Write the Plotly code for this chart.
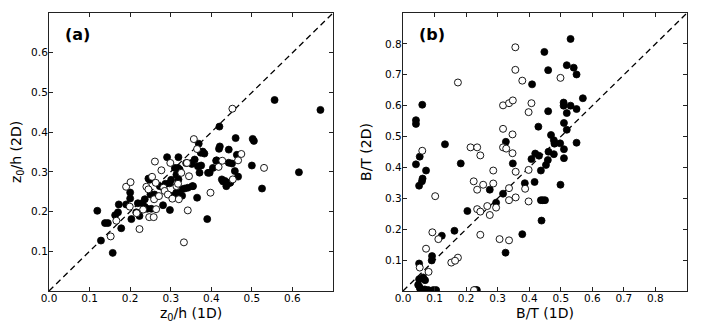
import plotly.graph_objects as go

# panel (a): z0/h
a_fill_x = [0.119, 0.128, 0.157, 0.138, 0.145, 0.178, 0.163, 0.170, 0.172, 0.190, 0.200, 0.200, 0.203,
            0.215, 0.223, 0.219, 0.230, 0.236, 0.245, 0.242, 0.252, 0.250, 0.260, 0.236, 0.281, 0.291,
            0.297, 0.298, 0.310, 0.318, 0.319, 0.319, 0.314, 0.326, 0.334, 0.352, 0.353, 0.359, 0.365,
            0.369, 0.374, 0.383, 0.371, 0.375, 0.390, 0.396, 0.404, 0.413, 0.420, 0.419, 0.421, 0.426,
            0.434, 0.437, 0.443, 0.443, 0.451, 0.447, 0.460, 0.463, 0.458, 0.466, 0.500, 0.502, 0.505,
            0.525, 0.556, 0.616, 0.669, 0.338, 0.328, 0.305, 0.429, 0.445, 0.355, 0.412,
            0.379, 0.367, 0.322, 0.314, 0.301, 0.287, 0.273, 0.248, 0.342, 0.351, 0.392]
a_fill_y = [0.202, 0.127, 0.096, 0.171, 0.171, 0.158, 0.191, 0.198, 0.218, 0.218, 0.248, 0.233, 0.181,
            0.198, 0.189, 0.221, 0.221, 0.231, 0.283, 0.207, 0.207, 0.243, 0.243, 0.212, 0.216, 0.337,
            0.271, 0.204, 0.310, 0.310, 0.337, 0.281, 0.248, 0.256, 0.258, 0.320, 0.264, 0.331, 0.235,
            0.371, 0.348, 0.346, 0.298, 0.316, 0.181, 0.298, 0.310, 0.329, 0.414, 0.358, 0.364, 0.281,
            0.277, 0.264, 0.356, 0.323, 0.321, 0.273, 0.385, 0.343, 0.302, 0.288, 0.316, 0.383, 0.378,
            0.258, 0.481, 0.299, 0.456, 0.322, 0.240, 0.240, 0.276, 0.272, 0.264, 0.328,
            0.351, 0.314, 0.306, 0.293, 0.280, 0.270, 0.264, 0.280, 0.260, 0.322, 0.2975]
a_open_x = [0.152, 0.166, 0.190, 0.201, 0.199, 0.223, 0.240, 0.245, 0.254, 0.261, 0.263, 0.247, 0.258,
            0.264, 0.259, 0.271, 0.277, 0.282, 0.285, 0.293, 0.299, 0.304, 0.314, 0.320, 0.326, 0.3325,
            0.340, 0.342, 0.345, 0.357, 0.365, 0.398, 0.418, 0.427, 0.453, 0.452, 0.466, 0.474, 0.530,
            0.216, 0.232, 0.318]
a_open_y = [0.1375, 0.177, 0.2625, 0.274, 0.2125, 0.156, 0.2625, 0.256, 0.2875, 0.326, 0.2725, 0.186,
            0.186, 0.206, 0.231, 0.239, 0.304, 0.260, 0.252, 0.243, 0.3225, 0.2325, 0.264, 0.231, 0.2975,
            0.1225, 0.3225, 0.203, 0.289, 0.3825, 0.3575, 0.2475, 0.3125, 0.328, 0.281, 0.459, 0.329,
            0.345, 0.310, 0.196, 0.205, 0.270]

# panel (b): B/T
b_fill_x = [0.041, 0.041, 0.041, 0.053, 0.051, 0.061, 0.062, 0.060, 0.073, 0.133, 0.183, 0.123, 0.163,
            0.092, 0.091, 0.051, 0.051, 0.064, 0.070, 0.048, 0.053, 0.055, 0.069, 0.080, 0.096, 0.105,
            0.229, 0.234, 0.204, 0.275, 0.295, 0.317, 0.326, 0.348, 0.325, 0.378, 0.386, 0.409, 0.407,
            0.417, 0.419, 0.429, 0.431, 0.437, 0.437, 0.450, 0.439, 0.448, 0.460, 0.460, 0.453, 0.459,
            0.461, 0.469, 0.478, 0.480, 0.478, 0.498, 0.499, 0.509, 0.509, 0.510, 0.510, 0.510, 0.519,
            0.519, 0.519, 0.531, 0.531, 0.541, 0.550, 0.550, 0.550, 0.570, 0.443]
b_fill_y = [0.553, 0.541, 0.410, 0.435, 0.341, 0.603, 0.364, 0.355, 0.390, 0.475, 0.413, 0.179, 0.195,
            0.113, 0.099, 0.089, 0.038, 0.044, 0.035, 0.020, 0.012, 0.005, 0.005, 0.003, 0.003, 0.003,
            0.003, 0.003, 0.259, 0.328, 0.286, 0.315, 0.483, 0.413, 0.124, 0.184, 0.349, 0.669, 0.427,
            0.353, 0.445, 0.532, 0.438, 0.390, 0.294, 0.294, 0.228, 0.774, 0.715, 0.582, 0.408, 0.424,
            0.451, 0.505, 0.488, 0.477, 0.443, 0.478, 0.344, 0.600, 0.610, 0.544, 0.459, 0.430, 0.731,
            0.576, 0.522, 0.816, 0.600, 0.723, 0.701, 0.589, 0.480, 0.624, 0.294]
b_open_x = [0.061, 0.102, 0.174, 0.093, 0.112, 0.073, 0.081, 0.053, 0.153, 0.174, 0.214, 0.235, 0.245,
            0.224, 0.235, 0.254, 0.286, 0.286, 0.235, 0.245, 0.267, 0.275, 0.295, 0.245, 0.306, 0.336,
            0.317, 0.336, 0.348, 0.317, 0.347, 0.317, 0.327, 0.347, 0.336, 0.336, 0.357, 0.357, 0.356,
            0.356, 0.378, 0.387, 0.398, 0.398, 0.398, 0.407, 0.499, 0.225, 0.165]
b_open_y = [0.454, 0.307, 0.675, 0.190, 0.168, 0.137, 0.062, 0.076, 0.092, 0.108, 0.465, 0.465, 0.439,
            0.355, 0.328, 0.344, 0.348, 0.390, 0.265, 0.257, 0.275, 0.246, 0.270, 0.182, 0.168, 0.164,
            0.601, 0.608, 0.617, 0.525, 0.507, 0.465, 0.461, 0.446, 0.333, 0.294, 0.303, 0.386, 0.789,
            0.716, 0.681, 0.331, 0.392, 0.290, 0.579, 0.608, 0.690, 0.003, 0.098]

a_max = 0.7
b_max = 0.9
a_ticks = [0.0, 0.1, 0.2, 0.3, 0.4, 0.5, 0.6]
b_ticks = [0.0, 0.1, 0.2, 0.3, 0.4, 0.5, 0.6, 0.7, 0.8]

font = "DejaVu Sans, sans-serif"
fill_marker = dict(color="black", size=7, line=dict(color="black", width=0.8))
open_marker = dict(color="white", size=7, line=dict(color="black", width=0.9))
dash_line = dict(color="black", dash="6px,4px", width=1.3)

fig = go.Figure()
fig.add_trace(go.Scatter(x=[0, a_max], y=[0, a_max], mode="lines", line=dash_line, xaxis="x", yaxis="y"))
fig.add_trace(go.Scatter(x=a_fill_x, y=a_fill_y, mode="markers", marker=fill_marker, xaxis="x", yaxis="y"))
fig.add_trace(go.Scatter(x=a_open_x, y=a_open_y, mode="markers", marker=open_marker, xaxis="x", yaxis="y"))
fig.add_trace(go.Scatter(x=[0, b_max], y=[0, b_max], mode="lines", line=dash_line, xaxis="x2", yaxis="y2"))
fig.add_trace(go.Scatter(x=b_fill_x, y=b_fill_y, mode="markers", marker=fill_marker, xaxis="x2", yaxis="y2"))
fig.add_trace(go.Scatter(x=b_open_x, y=b_open_y, mode="markers", marker=open_marker, xaxis="x2", yaxis="y2"))

ax = dict(showgrid=False, zeroline=False, showline=True, linecolor="#222", linewidth=1.2,
          mirror="allticks", ticks="inside", ticklen=4, tickcolor="#222", automargin=False,
          tickformat=".1f", tickfont=dict(size=10.5, color="black", family=font),
          title_font=dict(size=14, color="black", family=font))

# page body has an 8px margin, so the figure is sized to the visible 700x320 area
fig.update_layout(
    width=700, height=320, showlegend=False,
    plot_bgcolor="white", paper_bgcolor="white",
    margin=dict(l=0, r=0, t=0, b=0),
    font=dict(family=font, color="black"),
    xaxis=dict(ax, domain=[0.0586, 0.4643], range=[0, a_max], tickvals=a_ticks, ticklabelstandoff=-3,
               title=dict(text="z<sub>0</sub>/h (1D)", standoff=5)),
    yaxis=dict(ax, domain=[0.1156, 0.9844], range=[0, a_max], tickvals=a_ticks[1:], ticklabelstandoff=-2,
               title=dict(text="z<sub>0</sub>/h (2D)", standoff=12)),
    xaxis2=dict(ax, domain=[0.5643, 0.9700], range=[0, b_max], tickvals=b_ticks, anchor="y2",
                ticklabelstandoff=-3, title=dict(text="B/T (1D)", standoff=5)),
    yaxis2=dict(ax, domain=[0.1156, 0.9844], range=[0, b_max], tickvals=b_ticks[1:], anchor="x2",
                ticklabelstandoff=-2, title=dict(text="B/T (2D)", standoff=10)),
    annotations=[
        dict(text="<b>(a)</b>", xref="x domain", yref="y domain", x=0.05, y=0.965,
             xanchor="left", yanchor="top", showarrow=False, font=dict(size=16, family=font)),
        dict(text="<b>(b)</b>", xref="x2 domain", yref="y2 domain", x=0.05, y=0.965,
             xanchor="left", yanchor="top", showarrow=False, font=dict(size=16, family=font)),
    ],
)

fig.write_html("out.html")
